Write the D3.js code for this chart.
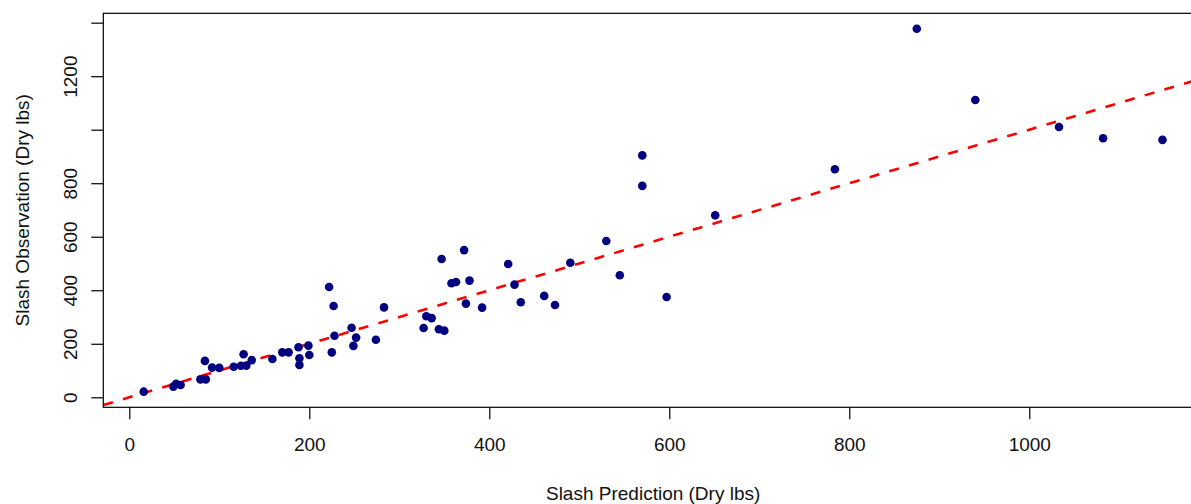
<!DOCTYPE html>
<html>
<head>
<meta charset="utf-8">
<script src="https://cdn.jsdelivr.net/npm/d3@7"></script>
<style>
  body { margin: 0; background: #fff; }
  svg { display: block; font-family: "Liberation Sans", Arial, sans-serif; }
</style>
</head>
<body>
<div id="chart"></div>
<script>
/* DATA */
const predicted = [16, 49, 52, 57, 79, 85, 84, 92, 100, 116, 124, 130, 127, 136, 159, 170, 177, 188, 189, 189,
  199, 200, 222, 227, 228, 225, 247, 252, 249, 274, 283, 327, 330, 336, 344, 350, 347, 372, 358, 363,
  378, 374, 392, 421, 428, 435, 461, 473, 490, 530, 545, 570, 570, 597, 651, 784, 875, 940, 1033, 1082, 1148];
const observed = [21, 40, 50, 46, 67, 67, 136, 111, 110, 114, 118, 118, 161, 139, 143, 168, 168, 187, 146, 121,
  193, 158, 412, 341, 230, 168, 260, 223, 192, 215, 336, 259, 303, 296, 254, 249, 517, 550, 426, 431,
  436, 350, 335, 498, 421, 355, 379, 345, 503, 584, 456, 904, 790, 375, 680, 852, 1377, 1111, 1010, 968, 962];
const xTicks = [0, 200, 400, 600, 800, 1000];
const yTicks = [0, 200, 400, 600, 800, 1000, 1200, 1400];
const yLabelled = [0, 200, 400, 600, 800, 1200];
const xTitle = "Slash Prediction (Dry lbs)";
const yTitle = "Slash Observation (Dry lbs)";

/* CONSTANTS */
const width = 1191, height = 504;
const box = {left: 103.3, top: 13.3, right: 1203, bottom: 407.3};

const points = predicted.map((p, i) => ({x: p, y: observed[i]}));

const xScale = d3.scaleLinear()
  .domain([-28.9, 1193])
  .range([box.left, box.right]);

const yScale = d3.scaleLinear()
  .domain([-37.4, 1435])
  .range([box.bottom, box.top]);

const svg = d3.select("#chart")
  .append("svg")
  .attr("width", width)
  .attr("height", height);

svg.append("clipPath")
  .attr("id", "plotClip")
  .append("rect")
  .attr("x", box.left)
  .attr("y", box.top)
  .attr("width", box.right - box.left)
  .attr("height", box.bottom - box.top);

// 1:1 reference line
const lineGen = d3.line()
  .x(d => xScale(d))
  .y(d => yScale(d));

svg.append("path")
  .datum(xScale.domain())
  .attr("clip-path", "url(#plotClip)")
  .attr("d", lineGen)
  .attr("fill", "none")
  .attr("stroke", "#ff0000")
  .attr("stroke-width", 2.6)
  .attr("stroke-dasharray", "10,10.5");

// points
svg.selectAll(".pt")
  .data(points)
  .join("circle")
  .attr("class", "pt")
  .attr("cx", d => xScale(d.x))
  .attr("cy", d => yScale(d.y))
  .attr("r", 4.3)
  .attr("fill", "#000080");

// frame
svg.append("rect")
  .attr("x", box.left)
  .attr("y", box.top)
  .attr("width", box.right - box.left)
  .attr("height", box.bottom - box.top)
  .attr("fill", "none")
  .attr("stroke", "#000")
  .attr("stroke-width", 1.2);

// x axis
const xAxisGroup = svg.append("g")
  .attr("transform", `translate(0, ${box.bottom})`)
  .call(d3.axisBottom(xScale).tickValues(xTicks).tickSize(12).tickFormat(d3.format("d")));

xAxisGroup.select(".domain").remove();
xAxisGroup.selectAll(".tick line").attr("stroke", "#000").attr("stroke-width", 1.2);
xAxisGroup.selectAll(".tick text")
  .attr("y", 43.7)
  .attr("dy", 0)
  .attr("fill", "#111")
  .style("font-size", "19px");

// y axis
const yAxisGroup = svg.append("g")
  .attr("transform", `translate(${box.left}, 0)`)
  .call(d3.axisLeft(yScale).tickValues(yTicks).tickSize(12)
    .tickFormat(d => yLabelled.includes(d) ? d : ""));

yAxisGroup.select(".domain").remove();
yAxisGroup.selectAll(".tick line").attr("stroke", "#000").attr("stroke-width", 1.2);
yAxisGroup.selectAll(".tick text")
  .attr("x", 0)
  .attr("dy", 0)
  .attr("transform", "translate(-26, 0) rotate(-90)")
  .attr("text-anchor", "middle")
  .attr("fill", "#111")
  .style("font-size", "19px");

// titles
svg.append("text")
  .attr("x", (box.left + box.right) / 2)
  .attr("y", 500)
  .attr("text-anchor", "middle")
  .attr("fill", "#111")
  .style("font-size", "19px")
  .text(xTitle);

svg.append("text")
  .attr("transform", `translate(29, ${(box.top + box.bottom) / 2}) rotate(-90)`)
  .attr("text-anchor", "middle")
  .attr("fill", "#111")
  .style("font-size", "19px")
  .text(yTitle);
</script>
</body>
</html>
